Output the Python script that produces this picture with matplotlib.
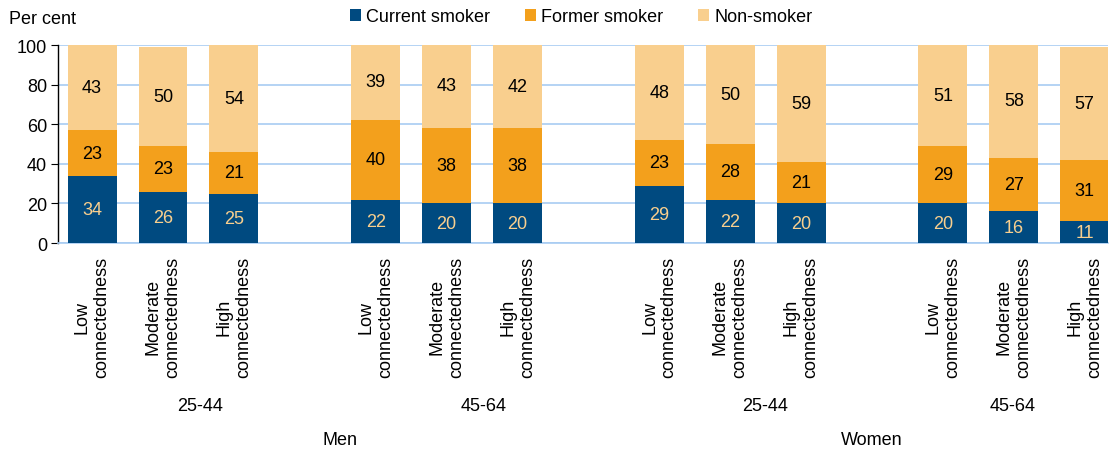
import matplotlib
matplotlib.use("Agg")
import matplotlib.pyplot as plt
import matplotlib.transforms as mtrans
import numpy as np

plt.rcParams['font.family'] = ['Liberation Sans', 'DejaVu Sans']

categories = ["Low\nconnectedness", "Moderate\nconnectedness", "High\nconnectedness"] * 4
current = [34, 26, 25, 22, 20, 20, 29, 22, 20, 20, 16, 11]
former = [23, 23, 21, 40, 38, 38, 23, 28, 21, 29, 27, 31]
non = [43, 50, 54, 39, 43, 42, 48, 50, 59, 51, 58, 57]
age_groups = ["25-44", "45-64", "25-44", "45-64"]
sexes = ["Men", "Women"]
series_names = ["Current smoker", "Former smoker", "Non-smoker"]

c_cur = "#004A80"
c_for = "#F3A01C"
c_non = "#F9CF8E"
grid_c = "#A8CCF2"

fig = plt.figure(figsize=(11.1, 4.52), dpi=100)
ax = fig.add_axes([0.0523, 0.460, 0.946, 0.438])

x = np.array([0, 1, 2, 4, 5, 6, 8, 9, 10, 12, 13, 14], dtype=float)
w = 0.69
cur = np.array(current, float)
fo = np.array(former, float)
no = np.array(non, float)

ax.bar(x, cur, w, color=c_cur, zorder=3, label=series_names[0])
ax.bar(x, fo, w, bottom=cur, color=c_for, zorder=3, label=series_names[1])
ax.bar(x, no, w, bottom=cur + fo, color=c_non, zorder=3, label=series_names[2])

fs = 13
for xi, a, b, c in zip(x, cur, fo, no):
    ax.text(xi, a / 2, f"{int(a)}", ha="center", va="center", color=c_non, fontsize=fs, zorder=4)
    ax.text(xi, a + b / 2, f"{int(b)}", ha="center", va="center", color="black", fontsize=fs, zorder=4)
    ax.text(xi, a + b + c / 2, f"{int(c)}", ha="center", va="center", color="black", fontsize=fs, zorder=4)

ax.set_xlim(-0.48, 14.33)
ax.set_ylim(0, 100)
ax.set_yticks([0, 20, 40, 60, 80, 100])
ax.tick_params(axis="y", labelsize=fs, length=5, direction="out", color="black", pad=3)
ax.yaxis.grid(True, color=grid_c, linewidth=1.2, zorder=0)
ax.set_axisbelow(True)

ax.set_xticks(x)
ax.set_xticklabels(categories, rotation=90, fontsize=fs, ma="center")
ax.tick_params(axis="x", length=0, pad=9)

for s in ["top", "right"]:
    ax.spines[s].set_visible(False)
ax.spines["bottom"].set_color(grid_c)
ax.spines["bottom"].set_linewidth(1.2)
ax.spines["left"].set_color("black")
ax.spines["left"].set_linewidth(1.0)

blend = mtrans.blended_transform_factory(ax.transData, fig.transFigure)

age_x = [1.52, 5.52, 9.49, 12.98]
for ax_x, lab in zip(age_x, age_groups):
    ax.text(ax_x, 1 - 407 / 452, lab, transform=blend, fontsize=fs, ha="center", va="center")

sex_x = [3.5, 11.0]
for sx, lab in zip(sex_x, sexes):
    ax.text(sx, 1 - 441 / 452, lab, transform=blend, fontsize=fs, ha="center", va="center")

fig.text(0.008, 1 - 19 / 452, "Per cent", fontsize=fs, ha="left", va="center")

leg = fig.legend(loc="center", bbox_to_anchor=(0.5234, 1 - 18 / 452), ncol=3, frameon=False,
                 fontsize=fs, handlelength=0.62, handleheight=0.62, columnspacing=1.9,
                 handletextpad=0.3)

fig.savefig("out.png", dpi=100)
